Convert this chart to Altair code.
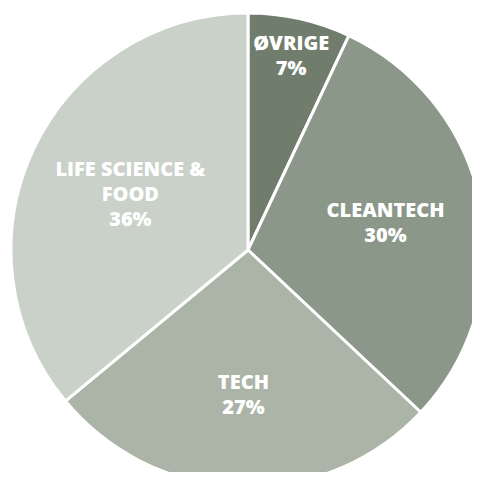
import altair as alt
import pandas as pd

categories = ["ØVRIGE", "CLEANTECH", "TECH", "LIFE SCIENCE &\nFOOD"]
shares = [7, 30, 27, 36]
colors = ["#707d6d", "#8b9788", "#aab4a7", "#c9d1c9"]
label_radius = [198, 140, 146, 130]

W, H = 464, 464
CX, CY, R = 240, 242, 237
LINE_H = 25

df = pd.DataFrame({
    "cat": categories,
    "share": shares,
    "order": list(range(len(categories))),
    "label": [f"{c}\n{s}%" for c, s in zip(categories, shares)],
    "lr": label_radius,
})

pie = alt.Chart(df).mark_arc(outerRadius=R, stroke="white", strokeWidth=3).encode(
    x=alt.value(CX),
    y=alt.value(CY),
    theta=alt.Theta("share:Q", stack=True),
    order=alt.Order("order:Q", sort="ascending"),
    color=alt.Color("cat:N", scale=alt.Scale(domain=categories, range=colors), legend=None),
)

text = alt.Chart(df).transform_window(
    cum="sum(share)", sort=[alt.SortField("order")]
).transform_joinaggregate(
    total="sum(share)"
).transform_calculate(
    mid="(datum.cum - datum.share / 2) / datum.total * 2 * PI",
    nlines="length(split(datum.label, '\\n'))",
).transform_calculate(
    px=f"{CX} + datum.lr * sin(datum.mid)",
    py=f"{CY} - datum.lr * cos(datum.mid) - (datum.nlines - 1) * {LINE_H / 2}",
).mark_text(
    font="Open Sans", fontWeight=800, fontSize=20, color="white",
    lineBreak="\n", lineHeight=LINE_H, align="center", baseline="middle"
).encode(
    x=alt.X("px:Q", scale=None, axis=None),
    y=alt.Y("py:Q", scale=None, axis=None),
    text="label:N",
)

chart = (pie + text).properties(
    width=W, height=H, padding=0, autosize=alt.AutoSizeParams(type="none")
).configure_view(stroke=None)

chart.save("out.html", embed_options={"renderer": "svg", "actions": False})
